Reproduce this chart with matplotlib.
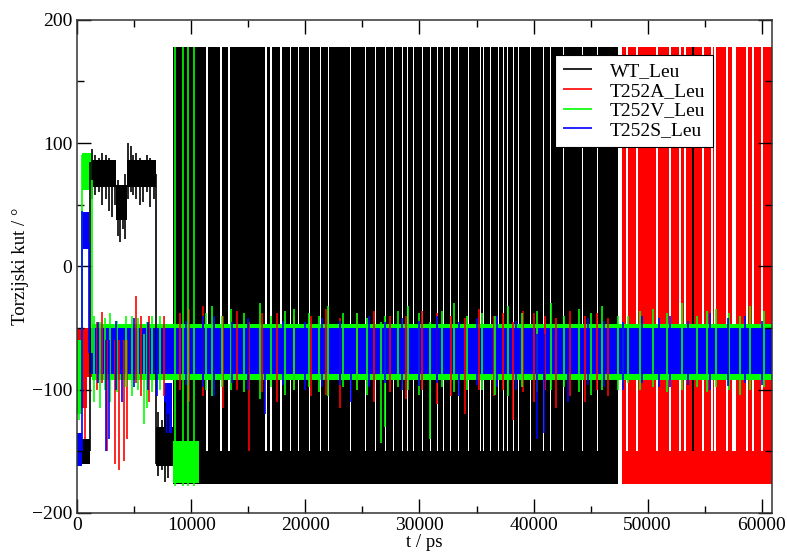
import matplotlib
matplotlib.use("Agg")
import matplotlib.pyplot as plt
from matplotlib.ticker import MultipleLocator

plt.rcParams['font.family'] = ['Liberation Serif', 'DejaVu Serif']

T_END = 60900

# quiet periods: start, end, lower edge, upper edge (ps, deg)
wt_t0 = [0, 1150, 3400, 4400, 6900, 47420, 53850]
wt_t1 = [1150, 3400, 4400, 6900, 8400, T_END, 54120]
wt_lo = [-160, 64, 38, 64, -162, -88, -177]
wt_hi = [-140, 86, 66, 86, -130, -52, 178]

t252a_t0 = [0, 400]
t252a_t1 = [47770, 900]
t252a_lo = [-90, -115]
t252a_hi = [-50, -60]

t252v_t0 = [0, 450, 1300, 8400]
t252v_t1 = [450, 1300, T_END, 10700]
t252v_lo = [-120, 62, -92, -176]
t252v_hi = [-60, 92, -47, -142]

t252s_t0 = [0, 400, 1000, 7600]
t252s_t1 = [400, 1000, T_END, 8300]
t252s_lo = [-162, 14, -87, -135]
t252s_hi = [-135, 44, -50, -95]

# periods of fast flipping between the -180 and +180 wells
wt_flip = (8400, 47420)
wt_gaps = [11370, 12600, 13300, 16540, 16970, 17850, 18720, 19420, 20380,
           21350, 22050, 23970, 25280, 26160, 27030, 27730, 28520, 28960,
           29480, 30270, 30970, 31580, 32110, 32720, 33420, 34300, 35350,
           35610, 36220, 36920, 37360, 37710, 38230, 38670, 39720, 40860,
           41470, 42610, 44300, 45600]
t252a_flip = (47770, T_END)
t252a_gaps = [48200, 49080, 50830, 51970, 52840, 53280, 53980, 54860, 55640,
              55900, 56960, 57480, 57650, 58700, 59230, 60000]

# single excursions / transitions: time, lowest, highest
wt_sp_t = [1150, 1300, 1600, 1900, 2200, 2500, 2800, 3050, 3300, 3600,
           3800, 4000, 4200, 4500, 4700, 4900, 5200, 5500, 5800, 6100,
           6400, 6700, 6900, 7100, 7400, 7700, 8000]
wt_sp_lo = [-150, 55, 58, 60, 50, 55, 45, 40, 50, 25,
            20, 30, 22, 55, 60, 58, 55, 50, 52, 60,
            48, 55, -160, -170, -165, -175, -172]
wt_sp_hi = [85, 95, 90, 88, 92, 90, 88, 85, 82, 70,
            65, 60, 75, 100, 98, 90, 92, 88, 85, 90,
            88, 85, 75, -118, -125, -110, -120]

t252a_sp_t = [700, 1700, 2200, 2600, 3300, 3650, 4100, 4350, 5200, 5600,
              6300, 7600, 9000, 9800, 11000, 12000, 12800, 14000, 15100,
              16200, 17500, 19000, 20500, 21800, 23000, 24500, 26000, 27400,
              28800, 30200, 31500, 32800, 34000, 35200, 36500, 37300, 38200,
              39100, 40000, 41000, 42000, 43200, 44500, 45600, 46500]
t252a_sp_lo = [-140, -100, -95, -150, -160, -165, -158, -140, -95, -105,
               -110, -105, -100, -110, -105, -100, -115, -100, -150,
               -102, -110, -100, -105, -104, -115, -100, -110, -102,
               -108, -100, -112, -105, -120, -100, -105, -100, -125,
               -102, -110, -100, -115, -105, -110, -100, -105]
t252a_sp_hi = [-60, -45, -37, -60, -60, -60, -60, -60, -24, -40,
               -40, -40, -38, -35, -32, -42, -40, -36, -45,
               -38, -38, -40, -40, -35, -42, -38, -36, -40,
               -40, -36, -38, -40, -42, -35, -40, -38, -45,
               -36, -38, -40, -42, -36, -40, -38, -42]

t252v_sp_t = [200, 450, 1300, 1500, 2000, 2400, 2900, 3500, 4300, 4800,
              5300, 5900, 6100, 6600, 7300, 8600, 9250, 9680, 10260, 11300,
              11800, 12700, 13500, 14600, 16000, 17000, 18200, 19000, 20300,
              21200, 22000, 23300, 24500, 25400, 26600, 27000, 28100, 29000,
              30000, 30900, 32000, 33000, 34200, 35500, 36600, 37800, 39000,
              40300, 41500, 42700, 44000, 45000, 46000, 47400, 47800, 48300,
              49300, 50500, 51700, 53000, 54300, 55200, 56000, 57100, 58100,
              59000, 60200]
t252v_sp_lo = [-125, -100, -70, -110, -115, -100, -110, -102, -98, -105,
               -100, -128, -115, -102, -100, -178, -178, -178, -178, -100,
               -105, -98, -100, -102, -108, -98, -104, -100, -98,
               -102, -105, -98, -100, -104, -143, -130, -98, -100,
               -104, -140, -98, -102, -100, -100, -104, -105, -98,
               -102, -100, -98, -102, -104, -100, -100, -95, -95,
               -100, -98, -102, -100, -98, -102, -98, -100, -104,
               -100, -98]
t252v_sp_hi = [-60, 90, 70, -40, -45, -42, -38, -44, -40, -40,
               -42, -55, -45, -40, -40, 178, 178, 178, 178, -38,
               -32, -40, -35, -38, -30, -40, -36, -35, -38,
               -40, -32, -38, -38, -42, -45, -40, -36, -32,
               -38, -45, -36, -30, -40, -38, -40, -32, -38,
               -36, -30, -40, -35, -38, -32, -40, -45, -40,
               -36, -35, -38, -30, -40, -36, -35, -38, -40,
               -32, -36]

t252s_sp_t = [400, 1000, 1800, 2550, 2750, 3400, 3900, 5000, 6200, 7000,
              9500, 11000, 12000, 13600, 15000, 16500, 18000, 20000, 21500,
              23000, 24000, 25600, 27000, 28500, 30000, 31500, 33500, 35000,
              36800, 38500, 40300, 40900, 43000, 44800, 46200, 47800, 49500,
              51000, 52000, 53500, 55500, 57000, 58500, 60000]
t252s_sp_lo = [-150, -70, -95, -150, -140, -100, -110, -98, -100, -105,
               -96, -98, -105, -95, -100, -120, -96, -100, -98,
               -96, -110, -98, -95, -100, -97, -95, -105, -96,
               -98, -100, -140, -135, -110, -96, -98, -100, -95,
               -98, -98, -96, -100, -97, -95, -96]
t252s_sp_hi = [45, 20, -45, -60, -60, -44, -55, -42, -45, -50,
               -44, -40, -40, -45, -42, -50, -44, -45, -42,
               -44, -50, -40, -45, -42, -44, -40, -45, -42,
               -40, -44, -55, -55, -50, -42, -44, -45, -40,
               -42, -40, -44, -38, -42, -40, -44]

FLIP_TOP = 178
FLIP_BOTTOM = -177
GAP_FLOOR = -150
GAP_WIDTH = 130


def draw_series(ax, color, label, t0, t1, lo, hi, sp_t, sp_lo, sp_hi,
                flip=None, gaps=()):
    for a, b, l, h in zip(t0, t1, lo, hi):
        ax.fill_between([a, b], l, h, color=color, lw=0)
    if flip is not None:
        start, end = flip
        # lower well is always occupied, upper part is cut by the gaps
        ax.fill_between([start, end], FLIP_BOTTOM, GAP_FLOOR, color=color, lw=0)
        edges = [start]
        for g in gaps:
            edges += [g - GAP_WIDTH / 2, g + GAP_WIDTH / 2]
        edges.append(end)
        for a, b in zip(edges[0::2], edges[1::2]):
            ax.fill_between([a, b], GAP_FLOOR, FLIP_TOP, color=color, lw=0)
    ax.vlines(sp_t, sp_lo, sp_hi, colors=color, lw=1.2, label=label)


fig, ax = plt.subplots(figsize=(7.87, 5.52), dpi=100)
fig.subplots_adjust(left=0.098, right=0.981, top=0.964, bottom=0.071)

draw_series(ax, '#000000', 'WT_Leu', wt_t0, wt_t1, wt_lo, wt_hi,
            wt_sp_t, wt_sp_lo, wt_sp_hi, wt_flip, wt_gaps)
draw_series(ax, '#ff0000', 'T252A_Leu', t252a_t0, t252a_t1, t252a_lo, t252a_hi,
            t252a_sp_t, t252a_sp_lo, t252a_sp_hi, t252a_flip, t252a_gaps)
draw_series(ax, '#00ff00', 'T252V_Leu', t252v_t0, t252v_t1, t252v_lo, t252v_hi,
            t252v_sp_t, t252v_sp_lo, t252v_sp_hi)
draw_series(ax, '#0000ff', 'T252S_Leu', t252s_t0, t252s_t1, t252s_lo, t252s_hi,
            t252s_sp_t, t252s_sp_lo, t252s_sp_hi)

ax.set_xlim(0, T_END)
ax.set_ylim(-200, 200)
ax.xaxis.set_major_locator(MultipleLocator(10000))
ax.xaxis.set_minor_locator(MultipleLocator(5000))
ax.yaxis.set_major_locator(MultipleLocator(100))
ax.yaxis.set_minor_locator(MultipleLocator(50))
ax.tick_params(which='both', direction='in', top=True, right=True,
               labelsize=14, width=1)
ax.tick_params(which='major', length=10)
ax.tick_params(which='minor', length=5)
ax.tick_params(axis='x', pad=3)
for s in ax.spines.values():
    s.set_linewidth(1.1)
    s.set_color('#333333')

ax.set_xlabel('t / ps', fontsize=13.5, labelpad=0)
ax.set_ylabel('Torzijski kut / °', fontsize=13.5, labelpad=2)

leg = ax.legend(loc='upper right', bbox_to_anchor=(0.915, 0.929),
                borderaxespad=0, fontsize=14, frameon=True, fancybox=False,
                handlelength=1.5, handletextpad=0.9, labelspacing=0.1,
                borderpad=0.4)
leg.get_frame().set_edgecolor('#000000')
leg.get_frame().set_linewidth(0.8)
leg.get_frame().set_alpha(1)

fig.savefig('out.png', dpi=100)
